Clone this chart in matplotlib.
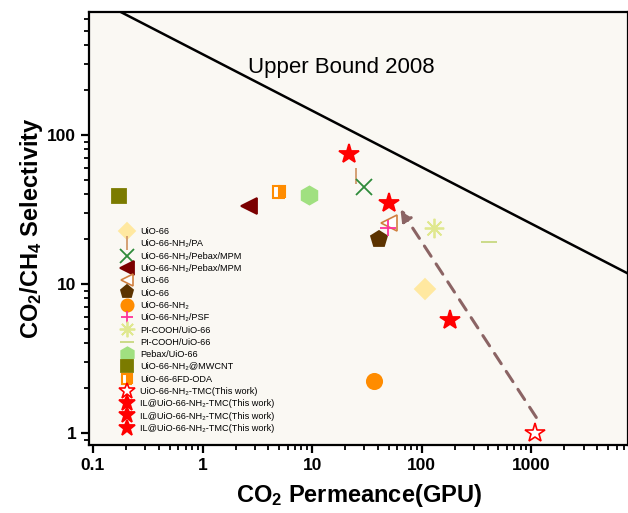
import matplotlib
matplotlib.use('Agg')
import matplotlib.pyplot as plt

plt.rcParams['font.family'] = ['Liberation Sans', 'DejaVu Sans']
plt.rcParams['mathtext.fontset'] = 'custom'
plt.rcParams['mathtext.rm'] = 'Liberation Sans'
plt.rcParams['mathtext.it'] = 'Liberation Sans:italic'
plt.rcParams['mathtext.bf'] = 'Liberation Sans:bold'

# datos (permeancia GPU, selectividad CO2/CH4)
etiquetas = [
    'UiO-66', 'UiO-66-NH₂/PA', 'UiO-66-NH₂/Pebax/MPM', 'UiO-66-NH₂/Pebax/MPM',
    'UiO-66', 'UiO-66', 'UiO-66-NH₂', 'UiO-66-NH₂/PSF', 'PI-COOH/UiO-66',
    'PI-COOH/UiO-66', 'Pebax/UiO-66', 'UiO-66-NH₂@MWCNT', 'UiO-66-6FD-ODA',
    'UiO-66-NH₂-TMC(This work)', 'IL@UiO-66-NH₂-TMC(This work)',
    'IL@UiO-66-NH₂-TMC(This work)', 'IL@UiO-66-NH₂-TMC(This work)',
]
permeancia = [108, 25.2, 30, 2.68, 50, 41.2, 37, 49.4, 129, 413, 9.3, 0.174, 5.02, 1079, 21.6, 50, 179.5]
selectividad = [9.26, 53, 44.6, 33.4, 25.8, 20, 2.24, 23.6, 23.9, 19.2, 39.6, 39.1, 41.6, 1.0, 74.5, 34.8, 5.73]

# limite superior de Robeson 2008 (dos extremos)
ub_perm = [0.1, 10000]
ub_sel = [835, 10.6]

# flecha: desde la membrana sin IL hasta la de IL
flecha_inicio = (1112, 1.27)
flecha_fin = (64, 31.7)

# estilos de cada punto: marker, color, relleno, tamaño
estilos = [
    ('D', '#FFE8A0', 'full', 10),
    ('|', '#D2996A', 'full', 12),
    ('x', '#2E8B3A', 'full', 12),
    ('<', '#7B0000', 'full', 12),
    ('<', '#D08040', 'none', 11),
    ('p', '#5C3300', 'full', 12),
    ('o', '#FF8C00', 'full', 11),
    ('+', '#FF3399', 'full', 11),
    ((8, 2, 0), '#E0E890', 'full', 14),
    ('_', '#C8D880', 'full', 12),
    ('h', '#A0E080', 'full', 13),
    ('s', '#7B7B00', 'full', 10),
    ('s', '#FF8C00', 'right', 9),
    ('*', '#FF0000', 'none', 15),
    ('*', '#FF0000', 'full', 15),
    ('*', '#FF0000', 'full', 15),
    ('*', '#FF0000', 'full', 15),
]

fig = plt.figure(figsize=(6.28, 5.13), dpi=100)
ax = fig.add_axes([0.1425, 0.1326, 0.857, 0.844])
ax.set_facecolor('#FAF8F3')

ax.plot(ub_perm, ub_sel, color='black', lw=1.8, zorder=2)
ax.text(18.5, 282, 'Upper Bound 2008', fontsize=16, ha='center', va='center')

for x, y, lab, (m, c, fill, ms) in zip(permeancia, selectividad, etiquetas, estilos):
    if fill == 'none':
        ax.plot(x, y, linestyle='none', marker=m, markersize=ms, markerfacecolor='white',
                markeredgecolor=c, markeredgewidth=1.2, label=lab, zorder=3)
    elif fill == 'right':
        ax.plot(x, y, linestyle='none', marker=m, markersize=ms, fillstyle='right',
                markerfacecolor=c, markerfacecoloralt='white', markeredgecolor=c,
                markeredgewidth=1.5, label=lab, zorder=3)
    else:
        ax.plot(x, y, linestyle='none', marker=m, markersize=ms, color=c,
                markeredgewidth=1.3, label=lab, zorder=3)

ax.annotate('', xy=flecha_fin, xytext=flecha_inicio,
            arrowprops=dict(arrowstyle='-|>', color='#8B6464', lw=2.2, linestyle=(0, (4, 3)),
                            mutation_scale=17, shrinkA=0, shrinkB=0), zorder=2)

ax.set_xscale('log')
ax.set_yscale('log')
ax.set_xlim(0.093, 7586)
ax.set_ylim(0.83, 669)
ax.set_xticks([0.1, 1, 10, 100, 1000])
ax.set_xticklabels(['0.1', '1', '10', '100', '1000'])
ax.set_yticks([1, 10, 100])
ax.set_yticklabels(['1', '10', '100'])

for s in ax.spines.values():
    s.set_linewidth(1.6)
ax.tick_params(which='major', direction='out', length=6, width=1.6, labelsize=12.5)
ax.tick_params(which='minor', direction='out', length=3.5, width=1.3)
for t in ax.get_xticklabels() + ax.get_yticklabels():
    t.set_fontweight('bold')

ax.set_xlabel(r'$\mathbf{CO_2}$ Permeance(GPU)', fontsize=17, fontweight='bold', labelpad=6)
ax.set_ylabel(r'$\mathbf{CO_2/CH_4}$ Selectivity', fontsize=17, fontweight='bold', labelpad=2)

ax.legend(loc='upper left', bbox_to_anchor=(0.0595, 0.503), frameon=False, fontsize=6.6,
          markerscale=0.8, handlelength=1.2, handletextpad=0.8, labelspacing=0.36,
          borderpad=0, borderaxespad=0, numpoints=1)

plt.savefig('out.png', dpi=100)
plt.close()
